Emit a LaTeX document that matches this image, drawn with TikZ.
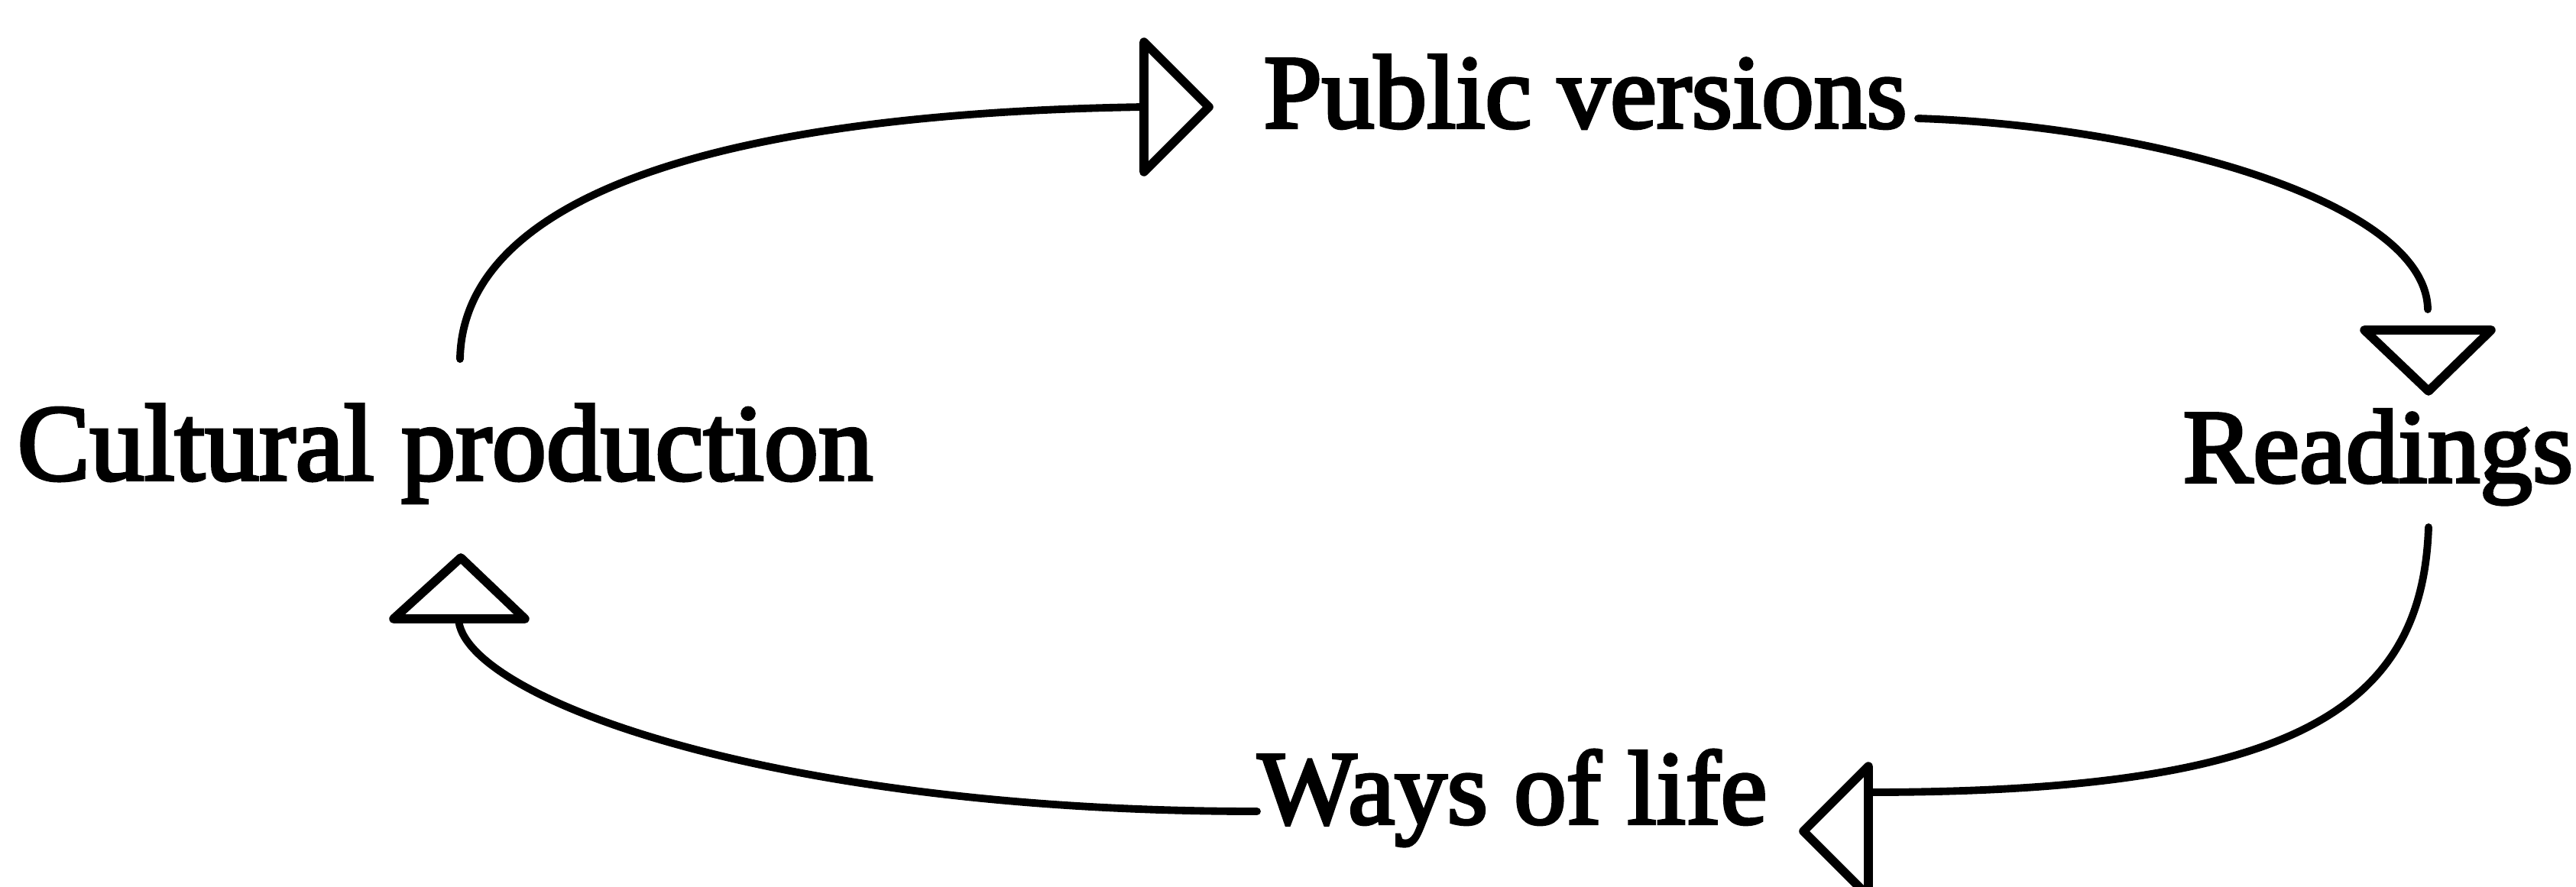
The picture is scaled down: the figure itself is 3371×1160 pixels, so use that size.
\documentclass[tikz,border=0pt]{standalone}
\usepackage{fontspec}
\setmainfont{Liberation Serif}
\newfontfamily\lblfont{Liberation Serif}[FakeBold=3]
\begin{document}
\begin{tikzpicture}[x=0.01cm,y=-0.01cm,
  lbl/.style={anchor=base west,inner sep=0pt,font=\lblfont\fontsize{39}{43}\selectfont},
  conn/.style={line width=2.8pt,line cap=round},
  tri/.style={line width=3.3pt,line join=round}]
\useasboundingbox (0,0) rectangle (3371,1160);
% labels
\node[lbl] (pv) at (1653,167) {Public versions};
\node[lbl] (rd) at (2856,631) {Readings};
\node[lbl,font=\lblfont\fontsize{40.5}{44}\selectfont] (cp) at (22,628) {Cultural production};
\node[lbl] (wl) at (1645,1078) {Ways of life};
% connector ends
\coordinate (cpTop) at (602,470);
\coordinate (pvIn) at (1497,140);
\coordinate (pvOut) at (2510,155);
\coordinate (rdIn) at (3177,405);
\coordinate (rdOut) at (3178,690);
\coordinate (wlIn) at (2445,1037);
\coordinate (wlOut) at (1645,1062);
\coordinate (cpIn) at (600,810);
% arrowheads
\draw[tri] (1497,55) -- (1582,140) -- (1497,225) -- cycle;
\draw[tri] (3094,432) -- (3260,432) -- (3178,512) -- cycle;
\draw[tri] (2445,1003) -- (2360,1088) -- (2445,1173) -- cycle;
\draw[tri] (515,810) -- (603,730) -- (687,810) -- cycle;
% connectors
\draw[conn] (cpTop) .. controls (605,290) and (850,150) .. (pvIn);
\draw[conn] (pvOut) .. controls (2820,165) and (3175,265) .. (rdIn);
\draw[conn] (rdOut) .. controls (3170,930) and (3000,1037) .. (wlIn);
\draw[conn] (wlOut) .. controls (1000,1062) and (605,910) .. (cpIn);
\end{tikzpicture}
\end{document}
